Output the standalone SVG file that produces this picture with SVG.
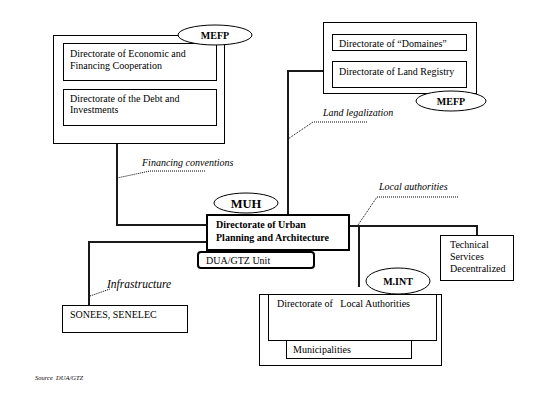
<svg xmlns="http://www.w3.org/2000/svg" width="538" height="401" viewBox="0 0 538 401">
<style>
.box{fill:#fff;stroke:#000;stroke-width:1}
.thick{fill:#fff;stroke:#000;stroke-width:2}
.ell{fill:#fff;stroke:#000;stroke-width:1}
.ln{fill:none;stroke:#1a1a1a;stroke-width:2}
.dot{fill:none;stroke:#000;stroke-width:1;stroke-dasharray:1 1}
text{font-family:"Liberation Serif","Times New Roman",serif;font-size:10px;fill:#000}
.b{font-weight:bold}
.i{font-style:italic}
</style>
<rect width="538" height="401" fill="#fff"/>
<g id="connectors">
<polyline class="ln" points="117,143 117,225 206,225"/>
<polyline class="ln" points="206,242 89,242 89,305"/>
<polyline class="ln" points="288,214 288,71 323,71"/>
<polyline class="ln" points="349,226 477,226 477,235"/>
<polyline class="ln" points="359,226 359,287"/>
<polyline class="dot" points="205,171 150,171 117,178"/>
<polyline class="dot" points="367,122 313,122 288,139"/>
<polyline class="dot" points="458,197 377,197 358,225"/>
<polyline class="dot" points="90,296 110,289"/>
</g>
<g id="label-financing"><text class="i" x="142" y="166">Financing conventions</text></g>
<g id="label-land"><text class="i" x="323" y="116">Land legalization</text></g>
<g id="label-local"><text class="i" x="379" y="190">Local authorities</text></g>
<g id="label-infra"><text class="i" x="107" y="288" style="font-size:11.5px">Infrastructure</text></g>
<g id="mefp-left">
<rect class="box" x="53.5" y="35.5" width="171" height="108"/>
<rect class="box" x="63.5" y="43.5" width="153" height="37"/>
<text x="70" y="57">Directorate of Economic and</text>
<text x="70" y="69">Financing Cooperation</text>
<rect class="box" x="63.5" y="89.5" width="153" height="36"/>
<text x="70" y="102">Directorate of the Debt and</text>
<text x="70" y="113">Investments</text>
<ellipse class="ell" cx="215" cy="35" rx="37" ry="10"/>
<text class="b" x="215" y="39" text-anchor="middle">MEFP</text>
</g>
<g id="mefp-right">
<rect class="box" x="323.5" y="22.5" width="153" height="71"/>
<rect class="box" x="332.5" y="34.5" width="134" height="16"/>
<text x="339" y="47">Directorate of “Domaines”</text>
<rect class="box" x="332.5" y="61.5" width="134" height="26"/>
<text x="339" y="75">Directorate of Land Registry</text>
<ellipse class="ell" cx="451" cy="101" rx="35" ry="10"/>
<text class="b" x="451" y="105" text-anchor="middle">MEFP</text>
</g>
<g id="muh">
<ellipse class="ell" cx="246" cy="203" rx="32" ry="10"/>
<text class="b" x="246" y="208" text-anchor="middle" style="font-size:12.5px">MUH</text>
<rect class="thick" x="207" y="215" width="142" height="35"/>
<text class="b" x="216" y="228">Directorate of Urban</text>
<text class="b" x="216" y="241">Planning and Architecture</text>
</g>
<g id="dua-gtz">
<rect class="thick" x="198" y="252" width="116" height="16" rx="3"/>
<text x="206" y="264">DUA/GTZ Unit</text>
</g>
<g id="technical">
<rect class="box" x="440.5" y="235.5" width="73" height="45"/>
<text x="450" y="248">Technical</text>
<text x="450" y="260">Services</text>
<text x="450" y="272">Decentralized</text>
</g>
<g id="sonees">
<rect class="box" x="62.5" y="305.5" width="125" height="27"/>
<text x="70" y="318">SONEES, SENELEC</text>
</g>
<g id="mint">
<rect class="box" x="259.5" y="294.5" width="182" height="71"/>
<rect class="box" x="268.5" y="294.5" width="168" height="46"/>
<text x="277" y="307" xml:space="preserve">Directorate of   Local Authorities</text>
<rect class="box" x="286.5" y="340.5" width="125" height="18"/>
<text x="293" y="353">Municipalities</text>
<ellipse class="ell" cx="398" cy="281" rx="32" ry="13"/>
<text class="b" x="398" y="285" text-anchor="middle">M.INT</text>
</g>
<g id="source"><text class="i" x="35" y="380" style="font-size:6.5px" xml:space="preserve">Source  DUA/GTZ</text></g>
</svg>
